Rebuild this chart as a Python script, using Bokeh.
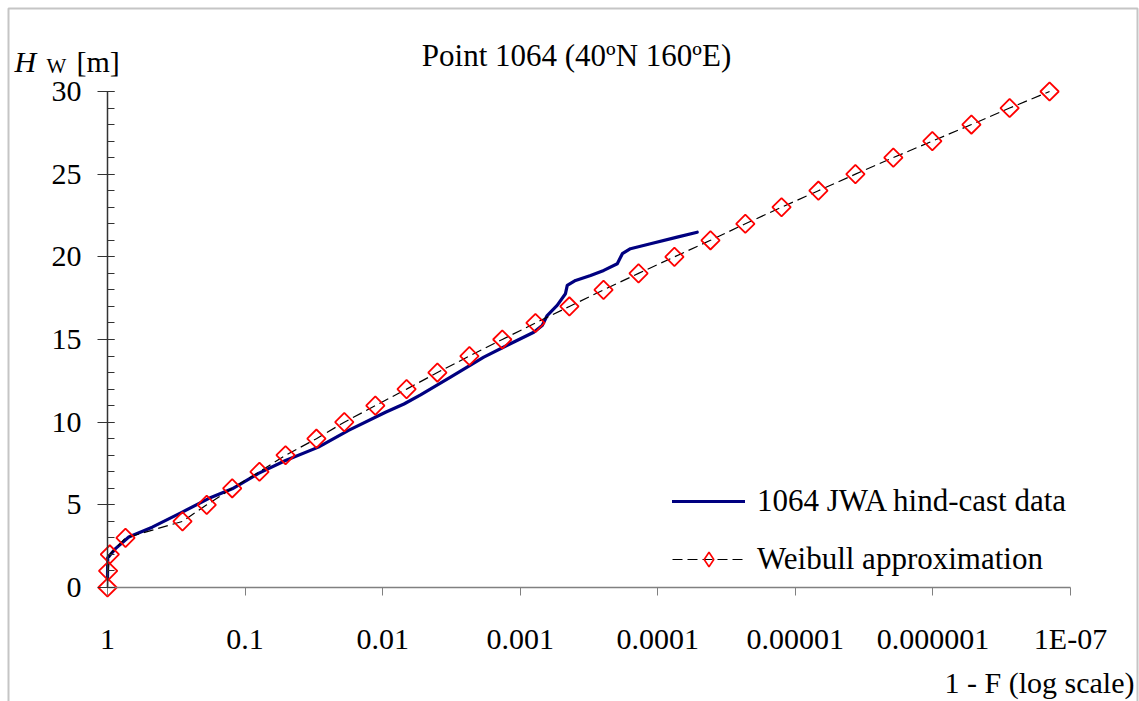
import math
from bokeh.plotting import figure
from bokeh.models import (Range1d, FixedTicker, CustomJSTickFormatter, Label,
                          Legend, LegendItem, BoxAnnotation, LogAxis,
                          LinearAxis, Grid)
from bokeh.embed import file_html
from bokeh.resources import INLINE

# ---------------- data ----------------
weibull_hw = list(range(31))
weibull_exceed = [1.0, 0.99, 0.962, 0.74, 0.285, 0.19, 0.124, 0.0786, 0.0508,
                  0.0303, 0.019, 0.0113, 0.0067, 0.0040, 0.00234, 0.00135,
                  0.000775, 0.000439, 0.000248, 0.000138, 7.57e-5, 4.14e-5,
                  2.31e-5, 1.26e-5, 6.8e-6, 3.66e-6, 1.94e-6, 1.01e-6,
                  5.25e-7, 2.77e-7, 1.42e-7]

hindcast_exceed = [1.0, 0.996, 0.875, 0.700, 0.473, 0.286, 0.1845, 0.124,
                   0.0799, 0.0508, 0.0293, 0.0177, 0.00953, 0.00700, 0.00530,
                   0.00321, 0.00184, 0.00118, 0.000797, 0.000692, 0.000637,
                   0.000539, 0.000469, 0.000455, 0.000396, 0.000308,
                   0.000247, 0.000197, 0.000181, 0.000158, 0.000113, 7.23e-5,
                   5.17e-5]
hindcast_hw = [0.6, 1.8, 2.35, 3.05, 3.65, 4.56, 5.38, 5.97, 6.9, 7.68, 8.49,
               9.5, 10.6, 11.1, 11.65, 12.72, 13.93, 14.74, 15.44, 15.85,
               16.45, 17.06, 17.77, 18.27, 18.57, 18.87, 19.18, 19.58, 20.19,
               20.49, 20.79, 21.19, 21.49]

x_ticks = [1, 0.1, 0.01, 0.001, 0.0001, 0.00001, 0.000001, 0.0000001]
x_tick_labels = ["1", "0.1", "0.01", "0.001", "0.0001", "0.00001",
                 "0.000001", "1E-07"]
y_ticks = [0, 5, 10, 15, 20, 25, 30]
y_minor_ticks = list(range(31))

title_text = "Point 1064 (40\u00baN 160\u00baE)"
x_title = "1 - F (log scale)"
series_names = ["1064 JWA hind-cast data", "Weibull approximation"]

# ---------------- layout ----------------
W, H = 1139, 701
FL, FR, FT, FB = 107, 1070, 91, 587   # plot-area edges in canvas px
FONT = "Liberation Serif"

# the frame covers the whole canvas; the ranges are padded so that the
# plot area (1 .. 1e-7, 0 .. 30) lands on the edges above
dec_per_px = 7.0 / (FR - FL)
u_per_px = 30.0 / (FB - FT)
x_range = Range1d(10 ** (FL * dec_per_px), 10 ** (-7 - (W - FR) * dec_per_px))
y_range = Range1d(-(H - FB) * u_per_px, 30 + FT * u_per_px)

p = figure(width=W, height=H, x_axis_type="log", x_axis_location=None,
           y_axis_location=None, x_range=x_range, y_range=y_range,
           output_backend="svg", toolbar_location=None, min_border=0)
p.outline_line_color = None
p.background_fill_color = "white"
p.border_fill_color = "white"
for g in p.select(type=Grid):
    g.visible = False

# x axis (at Hw = 0)
xa = LogAxis(fixed_location=0, bounds=(1e-7, 1),
             ticker=FixedTicker(ticks=x_ticks, minor_ticks=[]),
             formatter=CustomJSTickFormatter(
                 args=dict(labels=x_tick_labels),
                 code="const i = Math.round(-Math.log10(tick)); "
                      "return labels[i] ?? '';"))
xa.axis_line_color = "#808080"
xa.major_tick_line_color = "#808080"
xa.axis_line_width = 1.5
xa.major_tick_in = 0
xa.major_tick_out = 8
xa.major_label_standoff = 26
xa.major_label_text_font = FONT
xa.major_label_text_font_size = "30px"
xa.major_label_text_color = "black"
p.add_layout(xa, "below")

# y axis (at 1 - F = 1)
ya = LinearAxis(fixed_location=1, bounds=(0, 30),
                ticker=FixedTicker(ticks=y_ticks, minor_ticks=y_minor_ticks))
ya.axis_line_color = "#333333"
ya.major_tick_line_color = "#333333"
ya.minor_tick_line_color = "#333333"
ya.axis_line_width = 1.5
ya.major_tick_in = 7
ya.major_tick_out = 10
ya.minor_tick_in = 7
ya.minor_tick_out = 0
ya.major_label_standoff = 16
ya.major_label_text_font = FONT
ya.major_label_text_font_size = "30px"
ya.major_label_text_color = "black"
p.add_layout(ya, "left")

# series
r_hind = p.line(hindcast_exceed, hindcast_hw, line_color="#000080",
                line_width=3.2, line_join="round", line_cap="round")
r_wline = p.line(weibull_exceed, weibull_hw, line_color="black",
                 line_width=1.2, line_dash="10 5")
r_wpts = p.scatter(weibull_exceed, weibull_hw, marker="square", size=13,
                   angle=math.pi / 4, fill_color=None, line_color="#ff0000",
                   line_width=1.8)
# legend-only proxy marker (one NaN point, draws nothing in the plot)
r_wkey = p.scatter(x=[float("nan")], y=[float("nan")], marker="diamond",
                   size=12, fill_color=None, line_color="#ff0000",
                   line_width=1.6)

legend = Legend(items=[LegendItem(label=series_names[0], renderers=[r_hind]),
                       LegendItem(label=series_names[1],
                                  renderers=[r_wline, r_wkey])],
                location=(672, H - 577), orientation="vertical",
                glyph_width=73, glyph_height=36, label_standoff=12,
                spacing=22, padding=0, margin=0,
                border_line_color=None, background_fill_alpha=0,
                label_text_font=FONT, label_text_font_size="31px",
                label_text_color="black")
p.add_layout(legend, "center")


def lab(text, cx, cy, size, align="left", style="normal"):
    p.add_layout(Label(x=cx, y=H - cy, x_units="screen", y_units="screen",
                       text=text, text_font=FONT, text_font_size=size,
                       text_align=align, text_baseline="middle",
                       text_font_style=style, text_color="black"))


lab(title_text, 576, 55, "31px", align="center")
lab(x_title, 1134, 682, "30px", align="right")
lab("H", 14, 61, "30px", style="italic")
lab("W", 46, 65, "21px")
lab("[m]", 76, 61, "30px")

# outer frame of the chart
p.add_layout(BoxAnnotation(left=8, right=1137, bottom=-20, top=H - 8,
                           left_units="screen", right_units="screen",
                           bottom_units="screen", top_units="screen",
                           fill_alpha=0, line_color="#404040", line_width=2))

open("out.html", "w").write(file_html(p, INLINE))
